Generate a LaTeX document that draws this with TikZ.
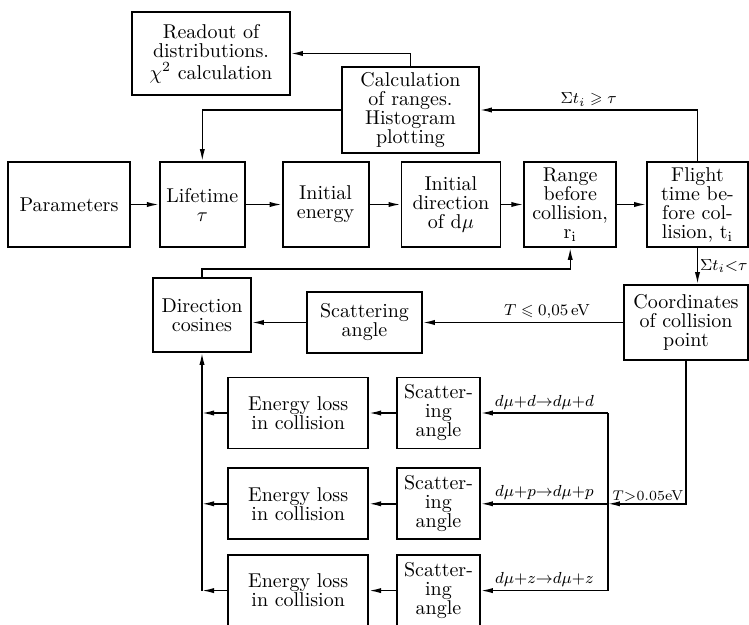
\documentclass[tikz,border=0pt]{standalone}
\usepackage{amsmath}
\usepackage{amssymb}
\usepackage{tikz}
\usetikzlibrary{arrows.meta, positioning, calc}

\begin{document}
\begin{tikzpicture}[x=0.5pt, y=-0.5pt,
  box/.style={rectangle, draw, line width=0.9pt, align=center, inner sep=1pt, font=\fontsize{10}{9.5}\selectfont},
  rowbox/.style={box, minimum height=42.5pt},
  lossbox/.style={box, minimum width=70pt, minimum height=35.5pt},
  scbox/.style={box, minimum width=41.5pt, minimum height=35.5pt},
  arr/.style={-{Latex[length=6pt, width=2.6pt]}, line width=0.7pt},
  lab/.style={font=\footnotesize, inner sep=1.5pt}
]
\useasboundingbox (0,0) rectangle (749,625);

\node[box, minimum width=79pt, minimum height=41.5pt] (readout) at (211,53.5) {Readout of\\distributions.\\[1.5pt]$\chi^2$ calculation};
\node[box, minimum width=68.5pt, minimum height=43pt] (calc) at (410.5,110) {Calculation\\of ranges.\\Histogram\\plotting};

\node[rowbox, minimum width=61pt] (params) at (69,204.5) {Parameters};
\node[rowbox, minimum width=42.5pt, right=14pt of params] (life) {Lifetime\\$\tau$};
\node[rowbox, minimum width=43pt, right=18pt of life] (energy) {Initial\\energy};
\node[rowbox, minimum width=49.5pt, right=15.5pt of energy] (direction) {Initial\\direction\\of d$\mu$};
\node[rowbox, minimum width=46pt, right=11pt of direction] (range) {Range\\before\\collision,\\r$_{\mathrm{i}}$};
\node[rowbox, minimum width=50.5pt, right=14.5pt of range] (flight) {Flight\\time be-\\fore col-\\lision, t$_{\mathrm{i}}$};

\node[box, minimum width=49pt, minimum height=37pt] (cosines) at (202,315) {Direction\\cosines};
\node[box, minimum width=57.5pt, minimum height=30.5pt] (scatter) at (364.5,322.5) {Scattering\\angle};
\node[box, minimum width=62pt, minimum height=37.5pt] (coord) at (686,322.5) {Coordinates\\of collision\\point};

\node[scbox] (sc1) at (438.5,413) {Scatter-\\ing\\angle};
\node[scbox, below=9pt of sc1] (sc2) {Scatter-\\ing\\angle};
\node[scbox, below=7pt of sc2] (sc3) {Scatter-\\ing\\angle};
\node[lossbox, left=13.5pt of sc1] (loss1) {Energy loss\\in collision};
\node[lossbox, left=13.5pt of sc2] (loss2) {Energy loss\\in collision};
\node[lossbox, left=13.5pt of sc3] (loss3) {Energy loss\\in collision};

\coordinate[right=63.5pt of sc2.east] (bus2);
\coordinate (bus1) at (bus2 |- sc1.east);
\coordinate (bus3) at (bus2 |- sc3.east);
\coordinate (lbus1) at (cosines.south |- loss1.west);
\coordinate (lbus2) at (cosines.south |- loss2.west);
\coordinate (lbus3) at (cosines.south |- loss3.west);

\draw[arr] (params) -- (life);
\draw[arr] (life) -- (energy);
\draw[arr] (energy) -- (direction);
\draw[arr] (direction) -- (range);
\draw[arr] (range) -- (flight);
\draw[arr] (flight.north) |- node[pos=0.75, above, lab] {$\Sigma t_i \geqslant \tau$} (calc.east);
\draw[arr] (calc.north) |- (readout.east);
\draw[arr] (calc.west) -| (life.north);
\draw[arr] (cosines.north) -- ++(0,4pt) -| (range.south);
\draw[arr] (flight.south) -- node[right, lab, inner sep=1pt] {$\Sigma t_i{<}\tau$} (flight.south |- coord.north);
\draw[arr] (coord.west) -- node[pos=0.38, above, lab] {$T \leqslant 0{,}05$\,eV} (scatter.east);
\draw[arr] (scatter.west) -- (scatter.west -| cosines.east);

\draw[arr] (coord.south) |- node[pos=0.5, anchor=south east, lab, font=\fontsize{7.2}{9}\selectfont, inner sep=1pt] {$T{>}0.05$eV} (bus2);
\draw[line width=0.7pt] (bus1) -- (bus3);
\draw[arr] (bus1) -- node[above, lab] {$d\mu{+}d{\to}d\mu{+}d$} (sc1.east);
\draw[arr] (bus2) -- node[above, lab] {$d\mu{+}p{\to}d\mu{+}p$} (sc2.east);
\draw[arr] (bus3) -- node[above, lab] {$d\mu{+}z{\to}d\mu{+}z$} (sc3.east);

\draw[arr] (sc1) -- (loss1);
\draw[arr] (sc2) -- (loss2);
\draw[arr] (sc3) -- (loss3);
\draw[arr] (loss1) -- (lbus1);
\draw[arr] (loss2) -- (lbus2);
\draw[arr] (loss3) -- (lbus3);
\draw[arr] (lbus3) -- (cosines.south);
\end{tikzpicture}
\end{document}
